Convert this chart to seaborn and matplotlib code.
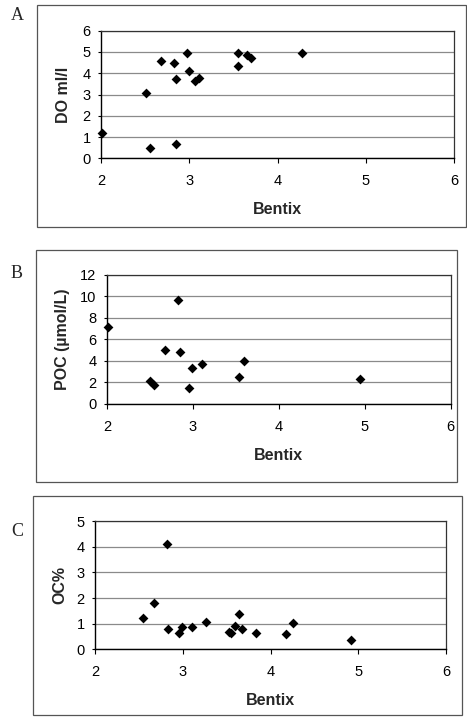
import matplotlib
matplotlib.use("Agg")
import matplotlib.pyplot as plt
import seaborn as sns
import pandas as pd
from matplotlib.patches import Rectangle

# ---- data ----
bentix_do = [2.01, 2.51, 2.56, 2.68, 2.83, 2.85, 2.85, 2.98, 3.00, 3.06, 3.11,
             3.55, 3.55, 3.65, 3.70, 4.28]
do_ml_l = [1.18, 3.09, 0.49, 4.59, 4.48, 3.75, 0.66, 4.97, 4.09, 3.64, 3.79,
           4.97, 4.36, 4.86, 4.70, 4.94]

bentix_poc = [2.01, 2.50, 2.55, 2.67, 2.83, 2.85, 2.96, 2.99, 3.10, 3.54, 3.60, 4.95]
poc_umol_l = [7.18, 2.08, 1.71, 4.97, 9.67, 4.85, 1.43, 3.30, 3.73, 2.52, 3.95, 2.30]

bentix_oc = [2.55, 2.67, 2.82, 2.83, 2.96, 2.99, 3.10, 3.26, 3.53, 3.55, 3.59,
             3.64, 3.68, 3.84, 4.18, 4.26, 4.92]
oc_pct = [1.21, 1.80, 4.10, 0.79, 0.65, 0.88, 0.88, 1.07, 0.66, 0.62, 0.91,
          1.38, 0.79, 0.65, 0.60, 1.02, 0.38]

x_ticks = [2, 3, 4, 5, 6]
y_ticks_do = [0, 1, 2, 3, 4, 5, 6]
y_ticks_poc = [0, 2, 4, 6, 8, 10, 12]
y_ticks_oc = [0, 1, 2, 3, 4, 5]

sns.set_style("white")
plt.rcParams['font.family'] = ['Liberation Sans', 'DejaVu Sans']

W, H = 467, 725
fig = plt.figure(figsize=(W / 100, H / 100), dpi=100)


def fx(px):
    return px / W


def fy(py):
    return 1 - py / H


def frame(x0, y0, x1, y1):
    fig.add_artist(Rectangle((fx(x0), fy(y1)), fx(x1) - fx(x0), fy(y0) - fy(y1),
                             transform=fig.transFigure, fill=False,
                             edgecolor='#555555', linewidth=0.9))


panels = [
    dict(box=(101, 30.7, 454, 158.3), frame=(37, 5, 466, 227), x=bentix_do, y=do_ml_l,
         yt=y_ticks_do, ylab='DO ml/l', ylx=63, letter='A', ly=15),
    dict(box=(107, 275, 450.7, 403.7), frame=(36, 250, 457, 482), x=bentix_poc, y=poc_umol_l,
         yt=y_ticks_poc, ylab='POC (\u00b5mol/L)', ylx=63, letter='B', ly=273),
    dict(box=(95, 521.3, 446, 649.3), frame=(33, 496, 462, 715), x=bentix_oc, y=oc_pct,
         yt=y_ticks_oc, ylab='OC%', ylx=60, letter='C', ly=532),
]

for p in panels:
    l, t, r, b = p['box']
    frame(*p['frame'])
    ax = fig.add_axes([fx(l), fy(b), fx(r) - fx(l), fy(t) - fy(b)])
    df = pd.DataFrame({'x': p['x'], 'y': p['y']})
    sns.scatterplot(data=df, x='x', y='y', marker='D', s=25, color='black',
                    linewidth=0, ax=ax, clip_on=False, zorder=5)
    ax.set_xlim(x_ticks[0], x_ticks[-1])
    ax.set_ylim(p['yt'][0], p['yt'][-1])
    ax.set_xticks(x_ticks)
    ax.set_yticks(p['yt'])
    ax.set_xticklabels([str(v) for v in x_ticks])
    ax.set_yticklabels([str(v) for v in p['yt']])
    ax.yaxis.grid(True, color='#8a8a8a', linewidth=0.9)
    ax.xaxis.grid(False)
    ax.set_axisbelow(True)
    for s in ['left', 'bottom']:
        ax.spines[s].set_color('black')
        ax.spines[s].set_linewidth(1.0)
    for s in ['top', 'right']:
        ax.spines[s].set_color('#333333')
        ax.spines[s].set_linewidth(0.9)
    ax.tick_params(axis='x', direction='out', length=3.5, width=0.8, pad=8,
                   labelsize=10.5, bottom=True, colors='black')
    ax.tick_params(axis='y', direction='out', length=2.5, width=0.8, pad=5,
                   labelsize=10.5, left=True, colors='black')
    ax.set_xlabel('Bentix', fontsize=11.5, fontweight='bold', labelpad=10)
    ax.set_ylabel(p['ylab'], fontsize=11.5, fontweight='bold', va='center')
    ax.yaxis.set_label_coords((p['ylx'] - l) / (r - l), 0.5)
    fig.text(fx(17), fy(p['ly']), p['letter'], ha='center', va='center',
             fontsize=13, family=['Liberation Serif', 'DejaVu Serif'])

fig.savefig('out.png', dpi=100)
